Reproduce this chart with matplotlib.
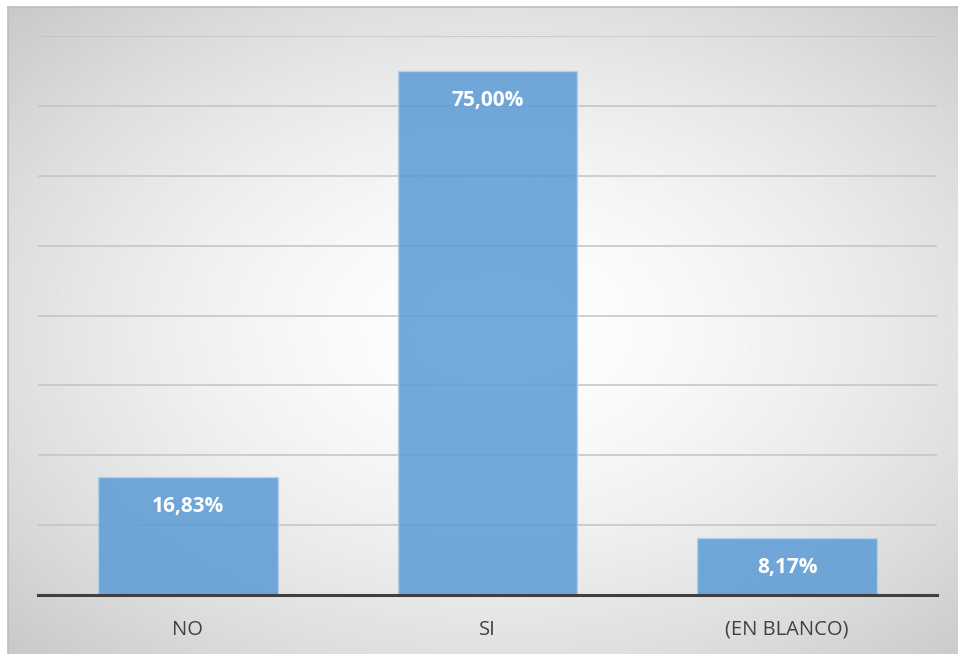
import numpy as np
import matplotlib.pyplot as plt
from matplotlib.lines import Line2D

categorias = ['NO', 'SI', '(EN BLANCO)']
porcentajes = [16.83, 75.00, 8.17]
etiquetas = ['16,83%', '75,00%', '8,17%']
rejilla = [10, 20, 30, 40, 50, 60, 70, 80]

plt.rcParams['font.family'] = ['Open Sans', 'DejaVu Sans']

W, H = 958, 654
fig = plt.figure(figsize=(W / 100, H / 100), dpi=100)
fig.patch.set_facecolor('white')

# fondo con degradado radial
bg = fig.add_axes([8 / W, 0, 1 - 8 / W + 0.01, 1 - 7 / H], zorder=0)
gx, gy = np.meshgrid(np.linspace(0, 1, 400), np.linspace(0, 1, 300))
d = np.sqrt(((gx - 0.51) / 0.5) ** 2 + ((gy - 0.5) / 0.5) ** 2) / np.sqrt(2)
val = 1 - 0.21 * np.clip(d, 0, 1) ** 1.6
bg.imshow(val, cmap='gray', vmin=0, vmax=1, aspect='auto', extent=[0, 1, 0, 1])
bg.axis('off')

# borde solo arriba e izquierda
fig.lines.append(Line2D([8 / W, 8 / W], [0, 1 - 7 / H], transform=fig.transFigure,
                        color='#bdbdbd', linewidth=1.2, zorder=1))
fig.lines.append(Line2D([8 / W, 1], [1 - 7 / H, 1 - 7 / H], transform=fig.transFigure,
                        color='#bdbdbd', linewidth=1.2, zorder=1))

ax = fig.add_axes([38 / W, 1 - 595 / H, (937 - 38) / W, (595 - 36) / H], zorder=2)
ax.set_facecolor('none')

x = np.arange(len(categorias))
for g in rejilla:
    ax.axhline(g, color='#c3c3c3', linewidth=1.1, zorder=1)

barras = ax.bar(x, porcentajes, width=0.6, color='#5B9BD5', alpha=0.85,
                edgecolor='#b5d2ee', linewidth=1, zorder=2)
for b, txt in zip(barras, etiquetas):
    ax.annotate(txt, (b.get_x() + b.get_width() / 2, b.get_height()),
                xytext=(0, -21), textcoords='offset points', ha='center', va='center',
                color='white', fontsize=15, fontweight='bold', zorder=3)

ax.set_xlim(-0.5, 2.5)
ax.set_ylim(0, 80)
ax.set_xticks(x)
ax.set_xticklabels(categorias, fontsize=14.5, color='#404040')
ax.tick_params(axis='x', length=0, pad=18)
ax.set_yticks([])
for s in ['left', 'right', 'top']:
    ax.spines[s].set_visible(False)
ax.spines['bottom'].set_color('#404040')
ax.spines['bottom'].set_linewidth(2.2)
ax.spines['bottom'].set_zorder(4)

fig.savefig('out.png', dpi=100)
